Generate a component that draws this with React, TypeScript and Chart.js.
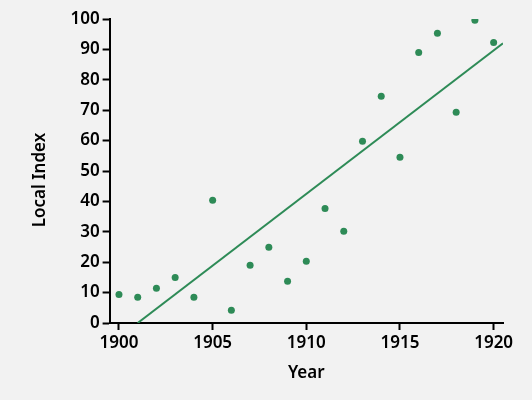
import { useEffect, useRef } from 'react';
import { Chart, registerables } from 'chart.js';

Chart.register(...registerables);

const years = [1900, 1901, 1902, 1903, 1904, 1905, 1906, 1907, 1908, 1909, 1910, 1911, 1912, 1913, 1914, 1915, 1916, 1917, 1918, 1919, 1920];
const localIndex = [9.4, 8.5, 11.4, 15.0, 8.5, 40.4, 4.2, 19.0, 24.9, 13.7, 20.3, 37.7, 30.2, 59.8, 74.6, 54.5, 89.0, 95.3, 69.3, 99.6, 92.3];
const trendYears = [1901, 1920.5];
const trendValues = [0, 92];
const xTickValues = [1900, 1905, 1910, 1915, 1920];
const yTickValues = [0, 10, 20, 30, 40, 50, 60, 70, 80, 90, 100];
const xTitle = 'Year';
const yTitle = 'Local Index';

const GREEN = '#2e8b57';
const FONT = '"Noto Sans", sans-serif';

const yTitlePlugin = {
  id: 'yTitle',
  afterDraw(chart: any) {
    const ctx = chart.ctx;
    ctx.save();
    ctx.translate(45, 180);
    ctx.rotate(-Math.PI / 2);
    ctx.fillStyle = '#000';
    ctx.font = `600 17px ${FONT}`;
    ctx.textAlign = 'center';
    ctx.textBaseline = 'alphabetic';
    ctx.fillText(yTitle, 0, 0);
    ctx.restore();
  },
};

export default function App() {
  const ref = useRef<HTMLCanvasElement | null>(null);

  useEffect(() => {
    document.body.style.margin = '0';
    const canvas = ref.current;
    if (!canvas) return;
    const chart = new Chart(canvas, {
      type: 'scatter',
      data: {
        datasets: [
          {
            type: 'scatter',
            data: years.map((x, i) => ({ x, y: localIndex[i] })),
            backgroundColor: GREEN,
            borderColor: GREEN,
            pointRadius: 3.5,
            pointBorderWidth: 0,
          },
          {
            type: 'line',
            data: trendYears.map((x, i) => ({ x, y: trendValues[i] })),
            borderColor: GREEN,
            borderWidth: 2,
            pointRadius: 0,
            tension: 0,
            fill: false,
          },
        ],
      },
      plugins: [yTitlePlugin],
      options: {
        animation: false,
        responsive: false,
        maintainAspectRatio: false,
        layout: { padding: { top: 19, right: 29, left: 0, bottom: 0 } },
        plugins: { legend: { display: false }, tooltip: { enabled: false } },
        scales: {
          x: {
            type: 'linear',
            min: 1899.5,
            max: 1920.5,
            afterBuildTicks: (s: any) => {
              s.ticks = xTickValues.map((v) => ({ value: v }));
            },
            afterFit: (s: any) => {
              s.height = 77;
            },
            grid: { drawOnChartArea: false, drawTicks: true, tickLength: 7, tickWidth: 2, tickColor: '#000' },
            border: { display: true, color: '#000', width: 2 },
            ticks: {
              color: '#000',
              padding: 3,
              maxRotation: 0,
              font: { family: FONT, size: 17, weight: '600' },
              callback: (v: any) => String(v),
            },
            title: {
              display: true,
              text: xTitle,
              color: '#000',
              font: { family: FONT, size: 17, weight: '600' },
              padding: { top: 0, bottom: 17 },
            },
          },
          y: {
            type: 'linear',
            min: 0,
            max: 100,
            afterBuildTicks: (s: any) => {
              s.ticks = yTickValues.map((v) => ({ value: v }));
            },
            afterFit: (s: any) => {
              s.width = 109.6;
            },
            grid: { drawOnChartArea: false, drawTicks: true, tickLength: 7, tickWidth: 2, tickColor: '#000' },
            border: { display: true, color: '#000', width: 2 },
            ticks: {
              color: '#000',
              padding: 3,
              font: { family: FONT, size: 17, weight: '600' },
              callback: (v: any) => String(v),
            },
            title: { display: false },
          },
        },
      },
    } as any);
    return () => chart.destroy();
  }, []);

  return (
    <div style={{ width: 532, height: 400, background: '#f2f2f2', position: 'relative' }}>
      <canvas ref={ref} width={532} height={400} style={{ display: 'block', width: 532, height: 400 }} />
    </div>
  );
}
